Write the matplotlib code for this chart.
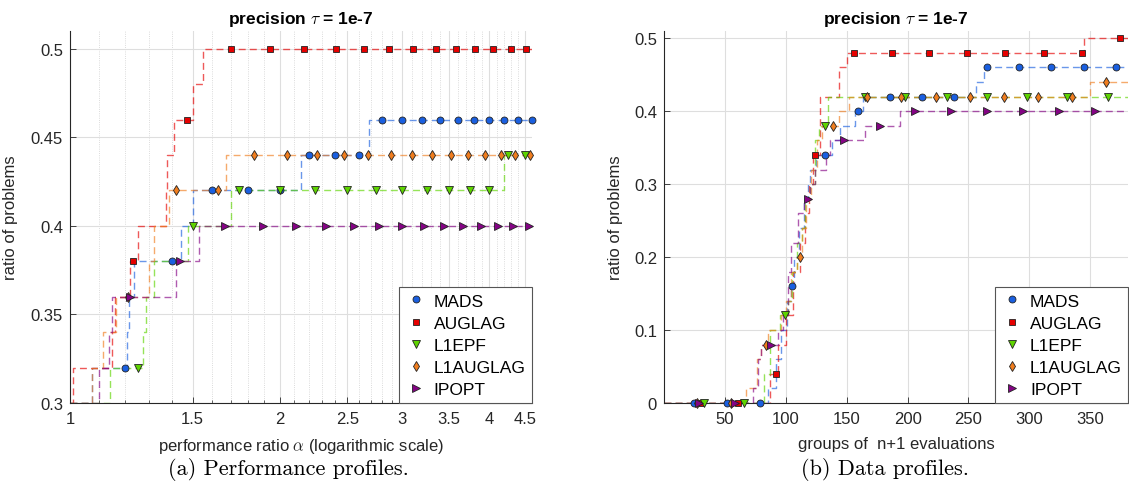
import numpy as np
import matplotlib
matplotlib.use('Agg')
import matplotlib.pyplot as plt
from matplotlib.ticker import FixedLocator, NullFormatter

plt.rcParams['font.family'] = ['Liberation Sans', 'DejaVu Sans']
plt.rcParams['mathtext.fontset'] = 'cm'

SOLVERS = ['MADS', 'AUGLAG', 'L1EPF', 'L1AUGLAG', 'IPOPT']

# ---- (a) performance profiles: step breakpoints (alpha, ratio) ----
mads_pp_x = [1.0, 1.077, 1.206, 1.215, 1.235, 1.443, 1.503, 2.146, 2.688]
mads_pp_y = [0.30, 0.32, 0.34, 0.36, 0.38, 0.40, 0.42, 0.44, 0.46]
auglag_pp_x = [1.0, 1.011, 1.15, 1.16, 1.22, 1.254, 1.374, 1.38, 1.41, 1.503, 1.55]
auglag_pp_y = [0.30, 0.32, 0.34, 0.36, 0.38, 0.40, 0.42, 0.44, 0.46, 0.48, 0.50]
l1epf_pp_x = [1.0, 1.14, 1.274, 1.286, 1.32, 1.476, 1.70, 4.20]
l1epf_pp_y = [0.30, 0.32, 0.34, 0.36, 0.38, 0.40, 0.42, 0.44]
l1auglag_pp_x = [1.0, 1.077, 1.116, 1.164, 1.30, 1.32, 1.389, 1.673]
l1auglag_pp_y = [0.30, 0.32, 0.34, 0.36, 0.38, 0.40, 0.42, 0.44]
ipopt_pp_x = [1.0, 1.10, 1.137, 1.15, 1.42, 1.533]
ipopt_pp_y = [0.30, 0.32, 0.34, 0.36, 0.38, 0.40]

# marker positions along alpha
mads_pp_m = [1.2, 1.4, 1.6, 1.8, 2.0, 2.2, 2.4, 2.6, 2.8, 3.0, 3.2, 3.4, 3.6,
             3.8, 4.0, 4.2, 4.4, 4.6]
auglag_pp_m = [1.23, 1.47, 1.70, 1.94, 2.17, 2.41, 2.64, 2.87, 3.11, 3.35,
               3.58, 3.81, 4.05, 4.29, 4.52]
l1epf_pp_m = [1.25, 1.5, 1.75, 2.0, 2.25, 2.5, 2.75, 3.0, 3.25, 3.5, 3.75,
              4.0, 4.25, 4.5]
l1auglag_pp_m = [1.21, 1.42, 1.63, 1.84, 2.05, 2.26, 2.47, 2.68, 2.89, 3.10,
                 3.31, 3.52, 3.73, 3.94, 4.15, 4.36, 4.57]
ipopt_pp_m = [1.22, 1.44, 1.67, 1.89, 2.11, 2.33, 2.56, 2.78, 3.0, 3.22,
              3.44, 3.67, 3.89, 4.11, 4.33, 4.56]

# ---- (b) data profiles: step breakpoints (groups of n+1 evals, ratio) ----
mads_dp_x = [0, 85, 92, 96, 101, 104, 107, 111, 115, 118, 120, 125, 138,
             144.7, 157, 163, 256, 263]
mads_dp_y = [0, 0.02, 0.06, 0.10, 0.14, 0.16, 0.20, 0.24, 0.28, 0.30, 0.32,
             0.34, 0.36, 0.38, 0.40, 0.42, 0.44, 0.46]
auglag_dp_x = [0, 87, 94, 100, 106, 112, 116, 119, 122, 127.7, 144, 150, 345]
auglag_dp_y = [0, 0.04, 0.08, 0.12, 0.18, 0.22, 0.26, 0.30, 0.34, 0.42,
               0.46, 0.48, 0.50]
l1epf_dp_x = [0, 82, 87, 95, 102, 105, 109, 113, 116, 120, 124, 127, 135]
l1epf_dp_y = [0, 0.04, 0.10, 0.12, 0.14, 0.18, 0.22, 0.24, 0.28, 0.30, 0.36,
              0.38, 0.42]
l1auglag_dp_x = [0, 67, 76, 80, 85, 96, 100, 104, 109, 113, 117, 121, 126,
                 130, 144, 151.6, 350]
l1auglag_dp_y = [0, 0.02, 0.06, 0.08, 0.10, 0.12, 0.14, 0.18, 0.20, 0.24,
                 0.28, 0.32, 0.36, 0.38, 0.40, 0.42, 0.44]
ipopt_dp_x = [0, 73, 77, 80, 94, 98, 102, 104, 110, 115, 120, 124, 133,
              136.5, 165, 194]
ipopt_dp_y = [0, 0.02, 0.06, 0.08, 0.10, 0.12, 0.18, 0.22, 0.26, 0.28, 0.30,
              0.32, 0.34, 0.36, 0.38, 0.40]

mads_dp_m = [25, 52, 79, 105.5, 132, 159, 185.5, 212, 238.5, 265, 291.5, 318,
             345, 371.5]
auglag_dp_m = [30, 61, 92, 124, 156, 187, 218, 249, 280, 312, 343, 374.5]
l1epf_dp_m = [33, 66, 99, 132, 165, 198, 232, 265, 298, 331, 364.5]
l1auglag_dp_m = [27, 55, 83.5, 111.5, 139, 167, 195, 223, 251, 279, 307, 335,
                 363]
ipopt_dp_m = [29, 58.5, 88, 118, 147.5, 177, 206.5, 236, 265.5, 295, 324.5,
              354]

pp_ticks = [1, 1.5, 2, 2.5, 3, 3.5, 4, 4.5]
pp_ticklabels = ['1', '1.5', '2', '2.5', '3', '3.5', '4', '4.5']
pp_yticks = [0.3, 0.35, 0.4, 0.45, 0.5]
pp_yticklabels = ['0.3', '0.35', '0.4', '0.45', '0.5']
dp_ticks = [50, 100, 150, 200, 250, 300, 350]
dp_yticks = [0, 0.1, 0.2, 0.3, 0.4, 0.5]
dp_yticklabels = ['0', '0.1', '0.2', '0.3', '0.4', '0.5']

# style per solver: marker, size, colour
styles = {
    'MADS': ('o', 5.0, '#1a5fe0'),
    'AUGLAG': ('s', 4.3, '#e60000'),
    'L1EPF': ('v', 5.5, '#5ed400'),
    'L1AUGLAG': ('d', 5.0, '#f07d1e'),
    'IPOPT': ('>', 5.5, '#850385'),
}

TXT = '#262626'


def draw_profile(ax, steps, marks, xmax):
    for name in SOLVERS:
        sx, sy = steps[name]
        col = styles[name][2]
        xs = np.append(sx, xmax)
        ys = np.append(sy, sy[-1])
        ax.step(xs, ys, where='post', color=col, alpha=0.65, lw=1.0,
                dashes=(5, 3), zorder=2)
    for name in SOLVERS:
        sx, sy = steps[name]
        mk, ms, col = styles[name]
        mx = np.array(marks[name])
        idx = np.searchsorted(sx, mx, side='right') - 1
        my = np.array(sy)[idx]
        ax.plot(mx, my, linestyle='none', marker=mk, markersize=ms,
                markerfacecolor=col, markeredgecolor='#222222',
                markeredgewidth=0.6, label=name, zorder=3, clip_on=False)


def style_axes(ax):
    for side in ['top', 'right']:
        ax.spines[side].set_visible(False)
    for side in ['left', 'bottom']:
        ax.spines[side].set_color(TXT)
        ax.spines[side].set_linewidth(0.8)
    ax.tick_params(which='both', direction='in', colors=TXT, labelsize=12,
                   top=False, right=False)
    ax.tick_params(which='major', length=4, width=0.6)
    ax.tick_params(which='minor', length=2.5, width=0.5)
    ax.tick_params(axis='x', pad=6)
    ax.tick_params(axis='y', pad=5)
    ax.set_axisbelow(True)
    ax.grid(which='major', color='#dedede', linewidth=0.8, linestyle='-')
    ax.set_title(r'precision $\tau$ = 1e-7', fontsize=12.5, fontweight='bold',
                 color='black', pad=6)
    ax.set_ylabel('ratio of problems', fontsize=12, color=TXT)
    leg = ax.legend(loc='lower right', bbox_to_anchor=(1.0, 0.0),
                    borderaxespad=0, fontsize=12.5, numpoints=1,
                    handlelength=1.2, handletextpad=0.45, borderpad=0.35,
                    labelspacing=0.4, fancybox=False, framealpha=1)
    leg.get_frame().set_edgecolor('#555555')
    leg.get_frame().set_linewidth(0.8)
    for t in leg.get_texts():
        t.set_color('black')


fig = plt.figure(figsize=(11.29, 4.89), dpi=100)
W, H = 1129, 489
ax1 = fig.add_axes([70 / W, 85 / H, 461.7 / W, 372 / H])
ax2 = fig.add_axes([664 / W, 85 / H, 464 / W, 372 / H])

pp_steps = {
    'MADS': (mads_pp_x, mads_pp_y),
    'AUGLAG': (auglag_pp_x, auglag_pp_y),
    'L1EPF': (l1epf_pp_x, l1epf_pp_y),
    'L1AUGLAG': (l1auglag_pp_x, l1auglag_pp_y),
    'IPOPT': (ipopt_pp_x, ipopt_pp_y),
}
pp_marks = {'MADS': mads_pp_m, 'AUGLAG': auglag_pp_m, 'L1EPF': l1epf_pp_m,
            'L1AUGLAG': l1auglag_pp_m, 'IPOPT': ipopt_pp_m}
dp_steps = {
    'MADS': (mads_dp_x, mads_dp_y),
    'AUGLAG': (auglag_dp_x, auglag_dp_y),
    'L1EPF': (l1epf_dp_x, l1epf_dp_y),
    'L1AUGLAG': (l1auglag_dp_x, l1auglag_dp_y),
    'IPOPT': (ipopt_dp_x, ipopt_dp_y),
}
dp_marks = {'MADS': mads_dp_m, 'AUGLAG': auglag_dp_m, 'L1EPF': l1epf_dp_m,
            'L1AUGLAG': l1auglag_dp_m, 'IPOPT': ipopt_dp_m}

# (a)
ax1.set_xscale('log')
draw_profile(ax1, pp_steps, pp_marks, 4.6)
ax1.set_xlim(1, 4.6)
ax1.set_ylim(0.3, 0.51)
ax1.xaxis.set_major_locator(FixedLocator(pp_ticks))
ax1.set_xticklabels(pp_ticklabels)
minor = [v / 10 for v in range(11, 47) if v % 5 != 0]
ax1.xaxis.set_minor_locator(FixedLocator(minor))
ax1.xaxis.set_minor_formatter(NullFormatter())
ax1.set_yticks(pp_yticks)
ax1.set_yticklabels(pp_yticklabels)
style_axes(ax1)
ax1.grid(which='minor', axis='x', color='#cfcfcf', linewidth=0.6,
         linestyle=':')
ax1.set_xlabel(r'performance ratio $\alpha$ (logarithmic scale)',
               fontsize=12, color=TXT)
ax1.xaxis.set_label_coords(0.5, -0.088)
ax1.yaxis.set_label_coords(-0.113, 0.5)

# (b)
draw_profile(ax2, dp_steps, dp_marks, 381)
ax2.set_xlim(0, 381)
ax2.set_ylim(0, 0.51)
ax2.set_xticks(dp_ticks)
ax2.set_yticks(dp_yticks)
ax2.set_yticklabels(dp_yticklabels)
style_axes(ax2)
ax2.set_xlabel('groups of  n+1 evaluations', fontsize=12, color=TXT)
ax2.xaxis.set_label_coords(0.5, -0.088)
ax2.yaxis.set_label_coords(-0.088, 0.5)

# captions
fig.text(288 / W, 1 - 470 / H, '(a) Performance profiles.', family='cmr10',
         fontsize=16, ha='center', va='center', color='black')
fig.text(885 / W, 1 - 470 / H, '(b) Data profiles.', family='cmr10',
         fontsize=16, ha='center', va='center', color='black')

fig.savefig('out.png', dpi=100)
